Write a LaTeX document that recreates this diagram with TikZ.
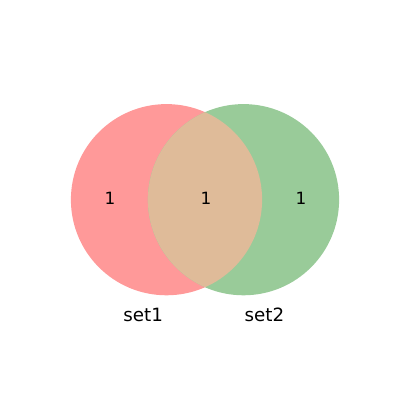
\documentclass[tikz,border=0pt]{standalone}
\usepackage{fontspec}
\setmainfont{DejaVu Sans}
\definecolor{setred}{HTML}{FF9999}
\definecolor{setgreen}{HTML}{99CB99}
\definecolor{setmix}{HTML}{DFBB99}

\begin{document}
\begin{tikzpicture}[
	count/.style={font=\fontsize{12}{14}\selectfont, inner sep=0pt},
	setname/.style={font=\fontsize{13}{15}\selectfont, inner sep=0pt}]
	\useasboundingbox (0,0) rectangle (10,10);
	
	\fill[setred] (4.1625,5.0075) circle (2.39);
	\fill[setgreen] (6.0875,5.0075) circle (2.39);
	\begin{scope}
		\clip (4.1625,5.0075) circle (2.39);
		\fill[setmix] (6.0875,5.0075) circle (2.39);
	\end{scope}
	
	\node[count] (only1) at (2.75, 5.03) {1};
	\node[count] (both) at (5.15, 5.03) {1};
	\node[count] (only2) at (7.525, 5.03) {1};
	
	\node[setname] (set1) at (3.58, 2.125) {set1};
	\node[setname] (set2) at (6.61, 2.125) {set2};
\end{tikzpicture}
\end{document}
